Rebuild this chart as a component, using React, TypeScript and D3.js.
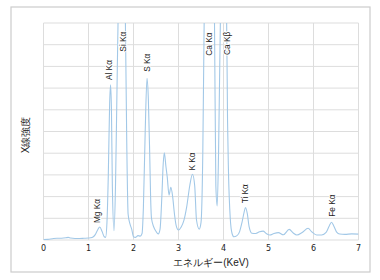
import React from "react";
import * as d3 from "d3";

const energy = [
  0.0, 0.1, 0.2, 0.3, 0.4, 0.5, 0.55, 0.6, 0.7, 0.8, 0.9, 1.0, 1.05, 1.1, 1.15, 1.2, 1.25, 1.3, 1.35, 1.38,
  1.41, 1.44, 1.47, 1.49, 1.51, 1.53, 1.567, 1.6, 1.63, 1.66, 1.7, 1.74, 1.78, 1.82, 1.85, 1.88, 1.92, 1.96,
  2.0, 2.04, 2.1, 2.15, 2.19, 2.22, 2.26, 2.3, 2.33, 2.36, 2.38, 2.4, 2.45, 2.5, 2.55, 2.59, 2.63, 2.66,
  2.685, 2.72, 2.75, 2.79, 2.83, 2.87, 2.91, 2.95, 3.0, 3.06, 3.12, 3.18, 3.25, 3.31, 3.36, 3.4, 3.46,
  3.5, 3.54, 3.57, 3.61, 3.68, 3.76, 3.8, 3.83, 3.86, 3.89, 3.93, 4.0, 4.07, 4.09, 4.11, 4.15, 4.19, 4.23,
  4.3, 4.36, 4.41, 4.46, 4.49, 4.53, 4.57, 4.63, 4.72, 4.8, 4.88, 4.95, 5.03, 5.12, 5.22, 5.33, 5.46,
  5.55, 5.63, 5.75, 5.88, 5.96, 6.07, 6.18, 6.28, 6.35, 6.4, 6.45, 6.52, 6.58, 6.7, 6.85, 7.0,
];
const intensity = [
  0.02, 0.03, 0.06, 0.08, 0.08, 0.1, 0.12, 0.09, 0.07, 0.07, 0.08, 0.09, 0.1, 0.14, 0.25, 0.45, 0.6, 0.4, 0.15, 0.12,
  0.8, 3.0, 6.3, 7.15, 6.0, 2.5, 0.43, 2.5, 6.5, 10.5, 14, 15, 14, 10, 4.5, 1.2, 0.75, 0.5,
  0.15, 0.12, 0.2, 0.18, 0.3, 1.5, 5.0, 7.45, 6.5, 4.0, 2.0, 1.0, 0.6, 0.4, 0.28, 0.5, 2.0, 3.5,
  4.02, 3.4, 2.9, 2.07, 2.43, 2.0, 1.2, 0.65, 0.46, 0.6, 0.9, 1.5, 2.5, 3.03, 2.5, 0.92, 0.5,
  0.8, 4.0, 10.0, 14, 16, 14, 10, 2.5, 1.57, 4.0, 10.0, 14, 10.0, 5.5, 3.2, 1.0, 0.3, 0.15,
  0.2, 0.4, 0.8, 1.3, 1.5, 1.2, 0.6, 0.31, 0.3, 0.38, 0.41, 0.3, 0.23, 0.3, 0.34, 0.24, 0.49,
  0.32, 0.23, 0.35, 0.54, 0.38, 0.23, 0.23, 0.35, 0.65, 0.82, 0.65, 0.35, 0.28, 0.26, 0.28, 0.27,
];

const labelNames = ["Mg Kα", "Al Kα", "Si Kα", "S Kα", "K Kα", "Ca Kα", "Ca Kβ", "Ti Kα", "Fe Kα"];
const labelEnergy = [1.18, 1.45, 1.773, 2.307, 3.3, 3.678, 4.084, 4.49, 6.42];
const labelLevel = [0.78, 7.37, 8.68, 7.75, 3.2, 8.49, 8.53, 1.69, 1.07];

const xTicks = [0, 1, 2, 3, 4, 5, 6, 7];
const yGrid = [0, 1, 2, 3, 4, 5, 6, 7, 8, 9, 10];

const xTitle = "エネルギー(KeV)";
const yTitle = "X線強度";

export default function App() {
  const W = 380;
  const H = 280;
  const left = 43.5;
  const right = 358.5;
  const top = 23;
  const bottom = 240;
  const x = d3.scaleLinear().domain([0, 7]).range([left, right]);
  const y = d3.scaleLinear().domain([0, 10]).range([bottom, top]);
  const pts = energy.map((e, i) => [e, intensity[i]] as [number, number]);
  const line = d3
    .line<[number, number]>()
    .x((d) => x(d[0]))
    .y((d) => y(d[1]))
    .curve(d3.curveMonotoneX);
  const font = "'Liberation Sans', Arial, sans-serif";
  const tickFont = "'DejaVu Sans', Verdana, sans-serif";
  return (
    <svg
      width={W}
      height={H}
      style={{ position: "absolute", left: 0, top: 0, background: "#fff" }}
    >
      <defs>
        <clipPath id="plotclip">
          <rect x={left} y={top} width={right - left} height={bottom - top} />
        </clipPath>
      </defs>
      <rect x={11} y={7} width={359} height={265} fill="#fff" stroke="#cccccc" strokeWidth={1.2} />
      {xTicks.map((t) => (
        <line key={"vx" + t} x1={x(t)} x2={x(t)} y1={top} y2={bottom} stroke="#dddddd" strokeWidth={1} />
      ))}
      {yGrid.map((t) => (
        <line key={"hy" + t} x1={left} x2={right} y1={y(t)} y2={y(t)} stroke="#dddddd" strokeWidth={1} />
      ))}
      <path
        d={line(pts) || ""}
        fill="none"
        stroke="#a2c8e7"
        strokeWidth={1.1}
        clipPath="url(#plotclip)"
      />
      {labelNames.map((n, i) => (
        <text
          key={n}
          transform={`translate(${x(labelEnergy[i])},${y(labelLevel[i])}) rotate(-90)`}
          dy="0.35em"
          fontSize={8.3}
          fontFamily={font}
          fill="#222"
          stroke="#fff"
          strokeWidth={2}
          style={{ paintOrder: "stroke" }}
        >
          {n}
        </text>
      ))}
      {xTicks.map((t) => (
        <text
          key={"tx" + t}
          x={x(t)}
          y={248.5}
          dy="0.35em"
          textAnchor="middle"
          fontSize={8}
          fontFamily={tickFont}
          fill="#222"
        >
          {t}
        </text>
      ))}
      <text
        x={211}
        y={262.5}
        dy="0.35em"
        textAnchor="middle"
        fontSize={10}
        fontFamily={font}
        fill="#222"
      >
        {xTitle}
      </text>
      <text
        transform={`translate(25,135) rotate(-90)`}
        dy="0.35em"
        textAnchor="middle"
        fontSize={10}
        fontFamily={font}
        fill="#222"
      >
        {yTitle}
      </text>
    </svg>
  );
}
